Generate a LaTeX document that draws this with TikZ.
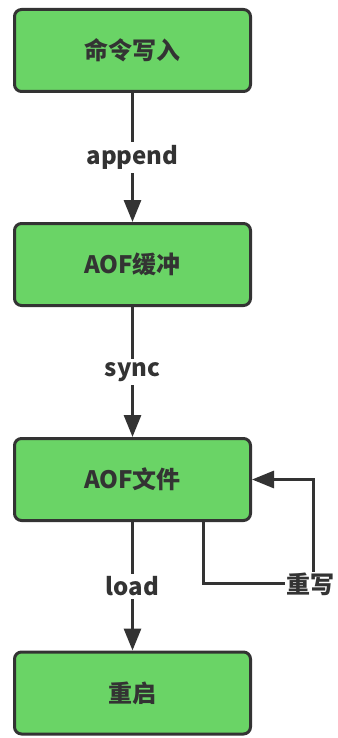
\documentclass[tikz,border=0pt]{standalone}
\usepackage{fontspec}
\setmainfont{Noto Sans CJK SC}
\usetikzlibrary{arrows.meta}
\definecolor{boxgreen}{HTML}{6AD466}
\definecolor{ink}{HTML}{333333}
\tikzset{
  box/.style={draw=ink, line width=3pt, fill=boxgreen, rounded corners=7pt,
    minimum width=236pt, minimum height=82pt, text=ink, font=\bfseries\fontsize{24}{28}\selectfont},
  arr/.style={draw=ink, line width=3pt, -{Triangle[length=22pt,width=17pt]}},
  lbl/.style={fill=white, text=ink, inner sep=3pt, font=\bfseries\fontsize{24}{28}\selectfont}
}
\begin{document}
\begin{tikzpicture}[x=1pt,y=-1pt]
\useasboundingbox (0,0) rectangle (337,738);
\node[box] (b1) at (132.5,50.5) {命令写入};
\node[box] (b2) at (132.5,264.5) {AOF缓冲};
\node[box] (b3) at (132.5,479.5) {AOF文件};
\node[box] (b4) at (132.5,693) {重启};
\draw[arr] (b1) -- node[lbl] {append} (b2);
\draw[arr] (b2) -- node[lbl] {sync} (b3);
\draw[arr] (b3) -- node[lbl] {load} (b4);
\coordinate (r1) at (203,583);
\coordinate (r2) at (313,583);
\draw[arr] (b3.south -| r1) -- (r1) -- (r2) -- (r2 |- b3.east) -- (b3.east);
\node[lbl, inner sep=1pt] (rw) at (310,584) {重写};
\end{tikzpicture}
\end{document}
